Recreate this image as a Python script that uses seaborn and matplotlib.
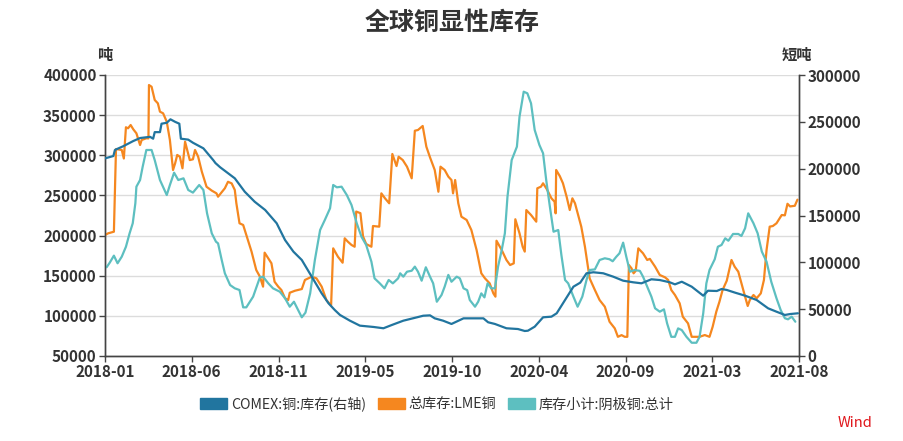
import matplotlib
matplotlib.use("Agg")
import matplotlib.pyplot as plt
from matplotlib.patches import Patch
import seaborn as sns
import pandas as pd

# ---------------- data ----------------
comex_dates = ["2018-01-02","2018-01-18","2018-01-21","2018-02-06","2018-02-25","2018-03-10","2018-03-29",
    "2018-04-04","2018-04-07","2018-04-17","2018-04-20","2018-04-30","2018-05-07","2018-05-16","2018-05-24",
    "2018-05-27","2018-06-10","2018-06-19","2018-07-09","2018-07-28","2018-08-01","2018-08-10","2018-09-07",
    "2018-09-26","2018-10-15","2018-11-04","2018-11-26","2018-12-12","2018-12-28","2019-01-13","2019-02-01",
    "2019-02-20","2019-03-05","2019-03-17","2019-03-27","2019-04-15","2019-05-04","2019-05-30","2019-06-18",
    "2019-07-04","2019-07-26","2019-08-21","2019-09-02","2019-09-15","2019-09-24","2019-10-10","2019-10-26",
    "2019-11-18","2019-12-26","2020-01-04","2020-01-17","2020-02-08","2020-03-01","2020-03-14","2020-03-20",
    "2020-04-02","2020-04-18","2020-05-04","2020-05-14","2020-05-20","2020-05-30","2020-06-15","2020-06-28",
    "2020-07-10","2020-07-23","2020-08-11","2020-08-30","2020-09-18","2020-10-07","2020-10-23","2020-11-11",
    "2020-11-27","2020-12-16","2020-12-26","2021-01-08","2021-01-27","2021-02-18","2021-02-27","2021-03-16",
    "2021-03-25","2021-04-04","2021-04-20","2021-05-09","2021-05-31","2021-06-22","2021-07-08","2021-07-24",
    "2021-08-03","2021-08-18"]
comex_values = [211000,213500,220000,224000,229500,232700,234000,
    232000,239000,239000,248000,249000,252700,250000,248000,
    232000,231000,227700,221700,209000,206000,201500,189700,
    175400,164700,155900,141700,123800,111400,102500,84700,
    66900,56300,49100,43800,37700,32400,31000,29600,
    33100,37700,41300,43000,43400,40200,37700,34200,
    40200,40200,36000,34200,29600,28800,26700,27000,
    31300,41300,42000,45600,50900,59800,74000,78300,
    88300,89400,88300,84700,80400,78700,77600,81900,
    81100,78700,76500,79300,74000,64400,69700,69400,
    71500,70500,67600,64400,59800,50900,47300,43800,
    44800,45600]

lme_dates = ["2018-01-02","2018-01-08","2018-01-19","2018-01-23","2018-02-03","2018-02-07","2018-02-11",
    "2018-02-15","2018-02-20","2018-02-25","2018-03-03","2018-03-10","2018-03-13","2018-03-22","2018-03-26",
    "2018-03-27","2018-04-01","2018-04-07","2018-04-13","2018-04-17","2018-04-23","2018-04-30","2018-05-06",
    "2018-05-12","2018-05-16","2018-05-20","2018-05-25","2018-05-30","2018-06-04","2018-06-08","2018-06-13",
    "2018-06-19","2018-06-23","2018-06-29","2018-07-06","2018-07-15","2018-07-25","2018-08-03","2018-08-06",
    "2018-08-19","2018-08-25","2018-09-01","2018-09-07","2018-09-10","2018-09-16","2018-09-23","2018-10-02",
    "2018-10-09","2018-10-18","2018-10-25","2018-10-31","2018-11-03","2018-11-10","2018-11-16","2018-11-22",
    "2018-11-29","2018-12-05","2018-12-12","2018-12-18","2018-12-21","2018-12-31","2019-01-13","2019-01-19",
    "2019-02-01","2019-02-10","2019-02-20","2019-03-01","2019-03-10","2019-03-14","2019-03-23","2019-04-01",
    "2019-04-05","2019-04-11","2019-04-18","2019-04-24","2019-04-27","2019-05-05","2019-05-10","2019-05-16",
    "2019-05-26","2019-05-29","2019-06-10","2019-06-14","2019-06-21","2019-06-29","2019-07-05","2019-07-13",
    "2019-07-17","2019-07-25","2019-08-02","2019-08-11","2019-08-17","2019-08-23","2019-09-01","2019-09-08",
    "2019-09-15","2019-09-24","2019-10-01","2019-10-05","2019-10-13","2019-10-20","2019-10-26","2019-10-29",
    "2019-11-02","2019-11-08","2019-11-14","2019-11-24","2019-12-03","2019-12-13","2019-12-22","2019-12-29",
    "2020-01-07","2020-01-14","2020-01-18","2020-01-20","2020-01-30","2020-02-08","2020-02-15","2020-02-22",
    "2020-02-25","2020-03-04","2020-03-10","2020-03-14","2020-03-17","2020-03-26","2020-04-05","2020-04-07",
    "2020-04-14","2020-04-18","2020-04-25","2020-05-04","2020-05-10","2020-05-12","2020-05-13","2020-05-20",
    "2020-05-26","2020-06-02","2020-06-08","2020-06-13","2020-06-18","2020-06-24","2020-06-30","2020-07-07",
    "2020-07-16","2020-07-26","2020-08-04","2020-08-14","2020-08-23","2020-09-02","2020-09-08","2020-09-15",
    "2020-09-21","2020-09-26","2020-09-29","2020-10-04","2020-10-08","2020-10-12","2020-10-17","2020-10-26",
    "2020-11-03","2020-11-08","2020-11-18","2020-11-27","2020-12-07","2020-12-13","2020-12-19","2020-12-26",
    "2021-01-04","2021-01-10","2021-01-20","2021-01-27","2021-02-05","2021-02-11","2021-02-21","2021-03-02",
    "2021-03-08","2021-03-15","2021-03-21","2021-03-27","2021-04-04","2021-04-08","2021-04-13","2021-04-19",
    "2021-04-26","2021-05-02","2021-05-09","2021-05-14","2021-05-18","2021-05-25","2021-05-31","2021-06-08",
    "2021-06-14","2021-06-19","2021-06-25","2021-07-01","2021-07-08","2021-07-18","2021-07-24","2021-07-29",
    "2021-08-03","2021-08-12","2021-08-17"]
lme_values = [200700,202800,204800,307800,306600,296000,334900,
    333600,337700,332400,327400,312800,319000,321200,321000,
    387500,385400,368900,364700,354300,352300,341800,319000,
    281700,290000,300400,298200,283800,316900,306600,294000,
    295000,306600,298200,279600,260800,256000,252600,248400,
    258900,267000,265000,256800,240200,215300,213200,194500,
    180000,157100,148800,136400,178700,171700,165500,142500,
    136400,132200,121900,119700,128800,131300,133400,144700,
    148800,146700,136400,119700,113000,184100,173700,166200,
    196600,192400,188300,186100,229900,227900,199000,189500,
    186100,211900,211100,252600,246400,240200,301600,286600,
    298200,294000,285800,271300,330600,331500,336500,310700,
    297400,281700,254600,285800,281700,273400,269200,252600,
    269200,240200,223500,219400,206900,182000,153000,146700,
    140500,128000,123900,193600,182000,169600,163300,165400,
    220300,202800,186100,180000,231800,225600,217300,258900,
    260900,265100,258000,246400,242200,227700,281700,274000,
    265100,248400,231800,246400,240200,225600,211100,186100,
    146700,132200,119700,111400,92700,84400,73900,76000,
    73900,73900,163300,159200,153000,156000,184100,177900,
    169600,171000,161300,150900,148000,144700,132200,126000,
    115600,98900,90600,73900,73900,73900,76100,73900,
    86400,105200,117600,132200,143800,155000,169600,161300,
    155000,140500,123900,112300,119700,126000,121900,128000,
    144700,182000,211100,211900,215300,225600,225200,239600,
    236300,237100,244700]

cathode_dates = ["2018-01-05","2018-01-11","2018-01-19","2018-01-26","2018-02-03","2018-02-11","2018-02-18",
    "2018-02-24","2018-03-01","2018-03-03","2018-03-10","2018-03-15","2018-03-22","2018-04-01","2018-04-07",
    "2018-04-17","2018-04-30","2018-05-06","2018-05-14","2018-05-22","2018-06-01","2018-06-10","2018-06-19",
    "2018-07-01","2018-07-09","2018-07-16","2018-07-25","2018-08-02","2018-08-06","2018-08-13","2018-08-19",
    "2018-08-29","2018-09-07","2018-09-16","2018-09-23","2018-09-29","2018-10-12","2018-10-25","2018-10-31",
    "2018-11-10","2018-11-19","2018-12-02","2018-12-12","2018-12-21","2018-12-29","2019-01-06","2019-01-13",
    "2019-01-20","2019-01-29","2019-02-07","2019-02-17","2019-02-26","2019-03-08","2019-03-14","2019-03-21",
    "2019-03-30","2019-04-09","2019-04-18","2019-04-28","2019-05-07","2019-05-16","2019-05-26","2019-06-01",
    "2019-06-11","2019-06-20","2019-06-28","2019-07-06","2019-07-16","2019-07-20","2019-07-26","2019-08-02",
    "2019-08-11","2019-08-17","2019-08-23","2019-08-30","2019-09-07","2019-09-15","2019-09-21","2019-09-28",
    "2019-10-07","2019-10-13","2019-10-20","2019-10-26","2019-11-05","2019-11-11","2019-11-18","2019-11-25",
    "2019-11-30","2019-12-10","2019-12-16","2019-12-22","2019-12-28","2020-01-03","2020-01-10","2020-01-17",
    "2020-01-23","2020-01-30","2020-02-05","2020-02-10","2020-02-18","2020-02-28","2020-03-04","2020-03-12",
    "2020-03-19","2020-03-26","2020-04-02","2020-04-11","2020-04-18","2020-04-24","2020-05-01","2020-05-08",
    "2020-05-17","2020-05-23","2020-05-30","2020-06-05","2020-06-15","2020-06-23","2020-07-02","2020-07-10",
    "2020-07-16","2020-07-26","2020-08-04","2020-08-14","2020-08-23","2020-08-29","2020-09-05","2020-09-11",
    "2020-09-18","2020-09-24","2020-10-01","2020-10-10","2020-10-20","2020-10-26","2020-11-03","2020-11-11",
    "2020-11-18","2020-11-27","2020-12-05","2020-12-11","2020-12-19","2020-12-26","2021-01-01","2021-01-08",
    "2021-01-17","2021-01-27","2021-02-05","2021-02-11","2021-02-18","2021-02-24","2021-03-02","2021-03-12",
    "2021-03-18","2021-03-25","2021-04-01","2021-04-07","2021-04-16","2021-04-26","2021-05-02","2021-05-09",
    "2021-05-15","2021-05-25","2021-06-02","2021-06-10","2021-06-19","2021-06-28","2021-07-08","2021-07-16",
    "2021-07-24","2021-07-30","2021-08-06","2021-08-13"]
cathode_values = [160500,166200,175000,165500,173700,186100,202800,
    215300,240200,260900,269200,285800,306600,306600,294000,
    269200,250500,263000,278300,269200,271300,256800,253500,
    263000,256800,227700,202800,192400,190300,169600,153000,
    138400,134300,132200,110600,110600,123900,148000,148800,
    140500,134300,130100,121900,111400,117600,107300,98200,
    104000,128000,169600,206900,219400,234000,263000,260100,
    260900,250500,238100,215300,198600,188300,167500,146700,
    140500,134300,144700,140500,146700,153000,148800,155000,
    156200,161300,155000,143800,160500,148800,140500,117600,
    126000,136400,151000,142500,148800,146700,134300,132000,
    119700,111400,117600,128000,123000,140500,134300,134300,
    161300,182000,202800,248400,294000,310700,348100,379200,
    377200,364700,331500,312800,302500,269200,236000,204800,
    206900,175800,144700,140500,123900,111400,123900,144700,
    157100,157900,169600,171700,170500,168000,173700,177900,
    191200,173700,155000,157100,156000,148800,136400,123900,
    109400,105200,108100,90600,73900,73900,84400,82300,
    73900,66500,66500,73900,103100,140500,157100,170500,
    186100,188300,196600,193600,202000,202000,199500,209100,
    227700,215300,202800,180000,167500,142500,121900,107300,
    97000,95700,99000,92700]

left_ticks = [50000, 100000, 150000, 200000, 250000, 300000, 350000, 400000]
right_ticks = [0, 50000, 100000, 150000, 200000, 250000, 300000]
x_start, x_end = "2018-01-02", "2021-08-20"

title = "全球铜显性库存"
labels = ["COMEX:铜:库存(右轴)", "总库存:LME铜", "库存小计:阴极铜:总计"]
colors = ["#21759f", "#f5871f", "#5dbfc0"]

# ---------------- style ----------------
sns.set_style("white")
plt.rcParams["font.family"] = ["Noto Sans CJK SC", "DejaVu Sans"]
TXT = "#333333"

fig = plt.figure(figsize=(9.04, 4.41), dpi=100)
ax = fig.add_axes([105/904, 1-356/441, 694/904, 281/441])
ax2 = ax.twinx()

lme = pd.DataFrame({"date": pd.to_datetime(lme_dates), "v": lme_values})
cat = pd.DataFrame({"date": pd.to_datetime(cathode_dates), "v": cathode_values})
com = pd.DataFrame({"date": pd.to_datetime(comex_dates), "v": comex_values})

sns.lineplot(data=lme, x="date", y="v", ax=ax, color=colors[1], linewidth=1.6, zorder=3)
sns.lineplot(data=cat, x="date", y="v", ax=ax, color=colors[2], linewidth=1.6, zorder=4)
sns.lineplot(data=com, x="date", y="v", ax=ax2, color=colors[0], linewidth=1.6, zorder=5)

x0, x1 = pd.Timestamp(x_start), pd.Timestamp(x_end)
ax.set_xlim(x0, x1)
ax.set_ylim(left_ticks[0], left_ticks[-1])
ax2.set_ylim(right_ticks[0], right_ticks[-1])

xt = [x0 + (x1 - x0) * k / 8 for k in range(9)]
ax.set_xticks(xt)
ax.set_xticklabels([t.strftime("%Y-%m") for t in xt])

ax.set_yticks(left_ticks)
ax.set_yticklabels([str(v) for v in left_ticks])
ax2.set_yticks(right_ticks)
ax2.set_yticklabels([str(v) for v in right_ticks])

ax.set_xlabel("")
ax.set_ylabel("")
ax2.set_ylabel("")

ax.grid(axis="y", color="#dcdcdc", linewidth=1.0)
ax.grid(axis="x", visible=False)
ax2.grid(False)

for a in (ax, ax2):
    a.spines["top"].set_visible(False)
    for s in ("left", "right", "bottom"):
        a.spines[s].set_color("#444444")
        a.spines[s].set_linewidth(1.0)

ax.tick_params(axis="both", which="both", direction="out", length=4, width=1, color="#444444",
               labelsize=11, labelcolor=TXT, pad=2)
ax.tick_params(axis="y", left=True)
ax.tick_params(axis="x", bottom=True)
ax2.tick_params(axis="y", right=True, direction="out", length=4, width=1, color="#444444",
                labelsize=11, labelcolor=TXT, pad=2)
for lab in ax.get_xticklabels() + ax.get_yticklabels() + ax2.get_yticklabels():
    lab.set_fontweight("bold")

fig.text(0.5, 1-23/441, title, ha="center", va="center", fontsize=18, fontweight="bold", color=TXT)
fig.text(105/904, 1-55/441, "吨", ha="center", va="center", fontsize=11, fontweight="bold", color=TXT)
fig.text(797/904, 1-55/441, "短吨", ha="center", va="center", fontsize=11, fontweight="bold", color=TXT)

handles = [Patch(facecolor=c, edgecolor=c) for c in colors]
fig.legend(handles, labels, loc="center", bbox_to_anchor=(437/904, 1-404/441), ncol=3, frameon=False,
           fontsize=10.2, handlelength=1.9, handleheight=0.9, handletextpad=0.3, columnspacing=0.8,
           labelcolor=TXT, borderaxespad=0, borderpad=0)
fig.text(873/904, 1-423/441, "Wind", ha="right", va="center", fontsize=10.5, color="#e0161b")

fig.savefig("out.png", dpi=100)
